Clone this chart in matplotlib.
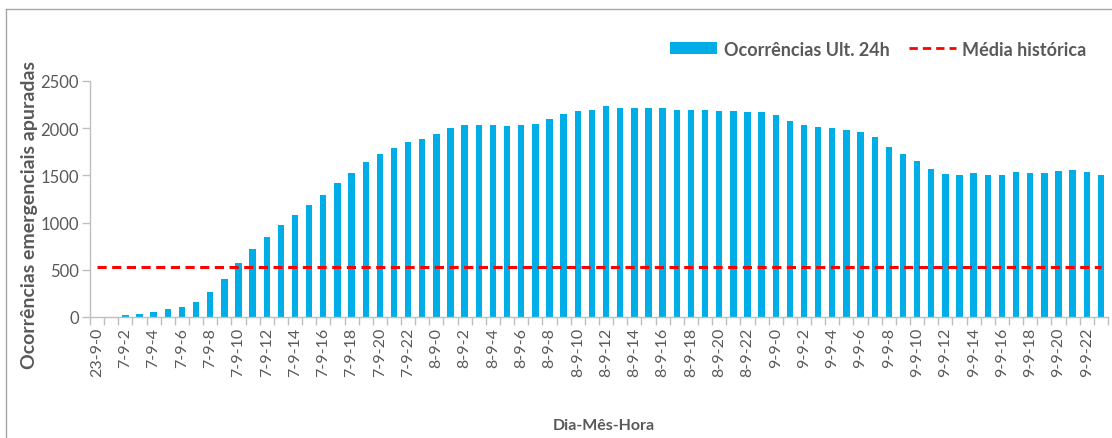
import matplotlib
matplotlib.use("Agg")
import matplotlib.pyplot as plt
from matplotlib.patches import Patch
from matplotlib.lines import Line2D

plt.rcParams['font.family'] = ['Lato', 'DejaVu Sans']

categories = (["23-9-0"] + [f"7-9-{h}" for h in range(1, 24)]
              + [f"8-9-{h}" for h in range(24)] + [f"9-9-{h}" for h in range(24)])
ocorrencias = [0, 0, 24, 35, 53, 81, 109, 162, 264, 405, 570, 722, 852, 975, 1077, 1187,
               1296, 1416, 1525, 1637, 1727, 1792, 1849, 1884, 1940, 2004, 2032, 2032, 2032,
               2021, 2032, 2042, 2095, 2155, 2180, 2198, 2236, 2219, 2219, 2219, 2219, 2190,
               2198, 2198, 2180, 2180, 2173, 2173, 2138, 2074, 2032, 2014, 1997, 1979, 1958,
               1905, 1803, 1722, 1648, 1564, 1514, 1507, 1525, 1507, 1500, 1535, 1525, 1525,
               1543, 1553, 1535, 1507]
media_historica = 528
yticks = [0, 500, 1000, 1500, 2000, 2500]

GRAY = "#595959"
AXIS = "#BFBFBF"
BLUE = "#00ADE6"

fig = plt.figure(figsize=(11.12, 4.39), dpi=100)
# outer frame lines (left and top)
fig.add_artist(Line2D([6/1112, 6/1112], [0, 1 - 10/439], transform=fig.transFigure, color="#A6A6A6", lw=1))
fig.add_artist(Line2D([6/1112, 1], [1 - 10/439, 1 - 10/439], transform=fig.transFigure, color="#A6A6A6", lw=1))

ax = fig.add_axes([90/1112, 121/439, 1018/1112, 236/439])
x = list(range(len(categories)))
ax.bar(x, ocorrencias, width=0.45, color=BLUE, zorder=2)
ax.plot([x[0], x[-1]], [media_historica, media_historica], color="#FF0000", lw=2.2,
        linestyle=(0, (3, 1.8)), zorder=3)

ax.set_xlim(-0.5, len(categories) - 0.5)
ax.set_ylim(0, 2500)
ax.set_yticks(yticks)
ax.set_yticklabels([str(v) for v in yticks], fontsize=12, color=GRAY)
ax.set_xticks(x[::2])
ax.set_xticklabels(categories[::2], rotation=90, fontsize=11.5, color=GRAY)
ax.set_xticks([i - 0.5 for i in range(len(categories) + 1)], minor=True)
ax.tick_params(axis='x', which='major', length=0, pad=7)
ax.tick_params(axis='x', which='minor', length=6, color=AXIS, width=1)
ax.tick_params(axis='y', which='major', length=6, color=AXIS, width=1, pad=2)

for s in ['top', 'right']:
    ax.spines[s].set_visible(False)
for s in ['left', 'bottom']:
    ax.spines[s].set_color(AXIS)
    ax.spines[s].set_linewidth(1)

fig.text(30/1112, 1 - 215/439, "Ocorrências emergenciais apuradas", rotation=90,
         ha='center', va='center', fontsize=14, fontweight='bold', color=GRAY)
fig.text(604/1112, 1 - 426/439, "Dia-Mês-Hora", ha='center', va='center', fontsize=11.5,
         fontweight='bold', color=GRAY)

handles = [Patch(facecolor=BLUE, edgecolor='none'),
           Line2D([0], [0], color="#FF0000", lw=2, linestyle=(0, (3, 1.8)))]
leg = fig.legend(handles, ["Ocorrências Ult. 24h", "Média histórica"], loc='center right',
                 bbox_to_anchor=(1103/1112, 1 - 50/439), ncol=2, frameon=False,
                 handlelength=2.6, handleheight=0.6, handletextpad=0.35, columnspacing=1.1,
                 prop={'size': 13, 'weight': 'bold'})
for t in leg.get_texts():
    t.set_color(GRAY)

fig.savefig("out.png", dpi=100)
